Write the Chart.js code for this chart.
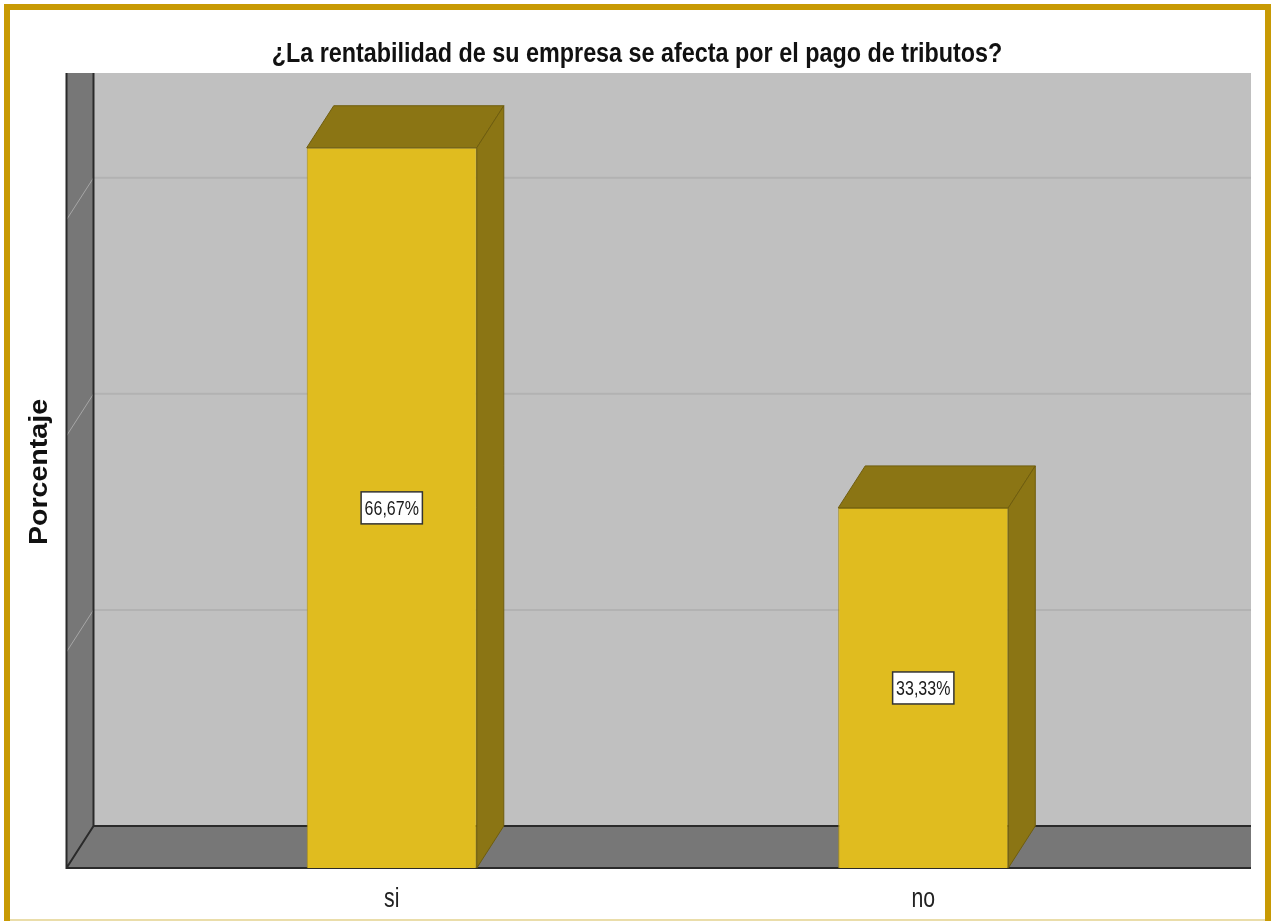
<!DOCTYPE html>
<html>
<head>
<meta charset="utf-8">
<title>Rentabilidad y tributos</title>
<script src="https://cdn.jsdelivr.net/npm/chart.js@4/dist/chart.umd.min.js"></script>
<style>
  html, body { margin: 0; padding: 0; background: #ffffff; overflow: hidden; }
  canvas { display: block; }
</style>
</head>
<body>
<canvas id="chart" width="1274" height="921"></canvas>
<script>
// Survey answers and their share of respondents (%)
const categories = ['si', 'no'];
const percentages = [66.67, 33.33];
// Percent levels that get a guide line on the back wall
const gridTicks = [20, 40, 60];
const axisMax = 69.7;

const titleText = '¿La rentabilidad de su empresa se afecta por el pago de tributos?';
const yAxisTitle = 'Porcentaje';

// Depth of the pseudo-3D box (pixels the back plane is shifted by)
const DEPTH_X = 27;
const DEPTH_Y = 42;

const FONT = '"Liberation Sans", Arial, sans-serif';

function drawText(ctx, text, x, y, font, sx, sy, align, baseline, color) {
  ctx.save();
  ctx.translate(x, y);
  ctx.scale(sx, sy);
  ctx.font = font;
  ctx.textAlign = align;
  ctx.textBaseline = baseline;
  ctx.fillStyle = color;
  ctx.fillText(text, 0, 0);
  ctx.restore();
}

function poly(ctx, pts, fill, stroke, lw) {
  ctx.beginPath();
  ctx.moveTo(pts[0][0], pts[0][1]);
  for (let i = 1; i < pts.length; i++) ctx.lineTo(pts[i][0], pts[i][1]);
  ctx.closePath();
  if (fill) { ctx.fillStyle = fill; ctx.fill(); }
  if (stroke) { ctx.strokeStyle = stroke; ctx.lineWidth = lw || 1; ctx.stroke(); }
}

const box3d = {
  id: 'box3d',
  beforeDraw(chart) {
    const ctx = chart.ctx;
    ctx.save();
    ctx.fillStyle = '#ffffff';
    ctx.fillRect(0, 0, chart.width, chart.height);
    // gold frame around the whole figure (its lower edge runs off the canvas)
    ctx.strokeStyle = '#C89A04';
    ctx.lineWidth = 6;
    ctx.strokeRect(7, 7, 1261, 924);
    ctx.fillStyle = '#EADDAA';
    ctx.fillRect(10, 919, 1255, 2);
    ctx.restore();
  },
  beforeDatasetsDraw(chart) {
    const ctx = chart.ctx;
    const ca = chart.chartArea;
    const y = chart.scales.y;
    const left = ca.left - 59.5;
    const right = ca.right + 62;
    const bottom = ca.bottom;
    const backTop = ca.top - DEPTH_Y;
    const backLeft = left + DEPTH_X;
    const backBottom = bottom - DEPTH_Y;

    ctx.save();
    ctx.beginPath();
    ctx.rect(0, 0, right, chart.height);
    ctx.clip();

    // back wall
    ctx.fillStyle = '#C0C0C0';
    ctx.fillRect(backLeft, backTop, right - backLeft, backBottom - backTop);

    // side wall
    poly(ctx, [[left, bottom], [left, backTop], [backLeft, backTop], [backLeft, backBottom]], '#777777');

    // guide lines on back wall and side wall
    gridTicks.forEach(v => {
      const py = y.getPixelForValue(v);
      ctx.beginPath();
      ctx.moveTo(backLeft, py - DEPTH_Y);
      ctx.lineTo(right, py - DEPTH_Y);
      ctx.strokeStyle = '#B2B2B2';
      ctx.lineWidth = 2;
      ctx.stroke();
      ctx.beginPath();
      ctx.moveTo(backLeft, py - DEPTH_Y);
      ctx.lineTo(left, py);
      ctx.strokeStyle = '#A6A6A6';
      ctx.lineWidth = 1;
      ctx.stroke();
    });

    // floor
    poly(ctx, [[left, bottom], [backLeft, backBottom], [right, backBottom], [right, bottom]], '#777777');

    // edges
    ctx.strokeStyle = '#2a2a2a';
    ctx.lineWidth = 2;
    ctx.beginPath();
    ctx.moveTo(left, backTop); ctx.lineTo(left, bottom); ctx.lineTo(right, bottom);
    ctx.moveTo(backLeft, backTop); ctx.lineTo(backLeft, backBottom); ctx.lineTo(right, backBottom);
    ctx.moveTo(left, bottom); ctx.lineTo(backLeft, backBottom);
    ctx.stroke();
    ctx.restore();
  },
  afterDatasetsDraw(chart) {
    const ctx = chart.ctx;
    const meta = chart.getDatasetMeta(0);
    meta.data.forEach((bar, i) => {
      const p = bar.getProps(['x', 'y', 'base', 'width'], true);
      const l = p.x - p.width / 2;
      const r = p.x + p.width / 2;
      const top = p.y;
      const base = p.base;
      ctx.save();
      // top face
      poly(ctx, [[l, top], [l + DEPTH_X, top - DEPTH_Y], [r + DEPTH_X, top - DEPTH_Y], [r, top]],
        '#8B7514', '#6F5D0E', 1);
      // side face
      poly(ctx, [[r, top], [r + DEPTH_X, top - DEPTH_Y], [r + DEPTH_X, base - DEPTH_Y], [r, base]],
        '#8B7514', '#6F5D0E', 1);

      // value label
      const label = percentages[i].toFixed(2).replace('.', ',') + '%';
      const font = '20px ' + FONT;
      const sx = 0.8;
      ctx.font = font;
      const tw = ctx.measureText(label).width * sx;
      const cy = (top + base) / 2;
      const bw = tw + 7;
      const bh = 32;
      ctx.fillStyle = '#ffffff';
      ctx.fillRect(p.x - bw / 2, cy - bh / 2, bw, bh);
      ctx.strokeStyle = '#333333';
      ctx.lineWidth = 1.5;
      ctx.strokeRect(p.x - bw / 2, cy - bh / 2, bw, bh);
      drawText(ctx, label, p.x, cy + 1, font, sx, 1.05, 'center', 'middle', '#1a1a1a');
      ctx.restore();
    });
  },
  afterDraw(chart) {
    const ctx = chart.ctx;
    const x = chart.scales.x;
    const ca = chart.chartArea;
    // chart title
    drawText(ctx, titleText, 637, 62, 'bold 27px ' + FONT, 0.865, 1, 'center', 'alphabetic', '#111111');
    // vertical axis title
    ctx.save();
    ctx.translate(40, 472);
    ctx.rotate(-Math.PI / 2);
    drawText(ctx, yAxisTitle, 0, 0, 'bold 26px ' + FONT, 1.1, 1, 'center', 'middle', '#111111');
    ctx.restore();
    // category labels
    categories.forEach((c, i) => {
      drawText(ctx, c, x.getPixelForValue(i), ca.bottom + 39, '28px ' + FONT, 0.76, 1, 'center', 'alphabetic', '#222222');
    });
  }
};

new Chart(document.getElementById('chart'), {
  type: 'bar',
  data: {
    labels: categories,
    datasets: [{
      data: percentages,
      backgroundColor: '#E0BC1F',
      borderColor: '#A8901C',
      borderWidth: 1,
      barPercentage: 0.32,
      categoryPercentage: 1
    }]
  },
  options: {
    responsive: false,
    animation: false,
    devicePixelRatio: 1,
    layout: { padding: { left: 126, right: 85, top: 115, bottom: 53 } },
    plugins: {
      legend: { display: false },
      title: { display: false },
      tooltip: { enabled: false }
    },
    scales: {
      x: { display: false, offset: true },
      y: { display: false, min: 0, max: axisMax }
    }
  },
  plugins: [box3d]
});
</script>
</body>
</html>
